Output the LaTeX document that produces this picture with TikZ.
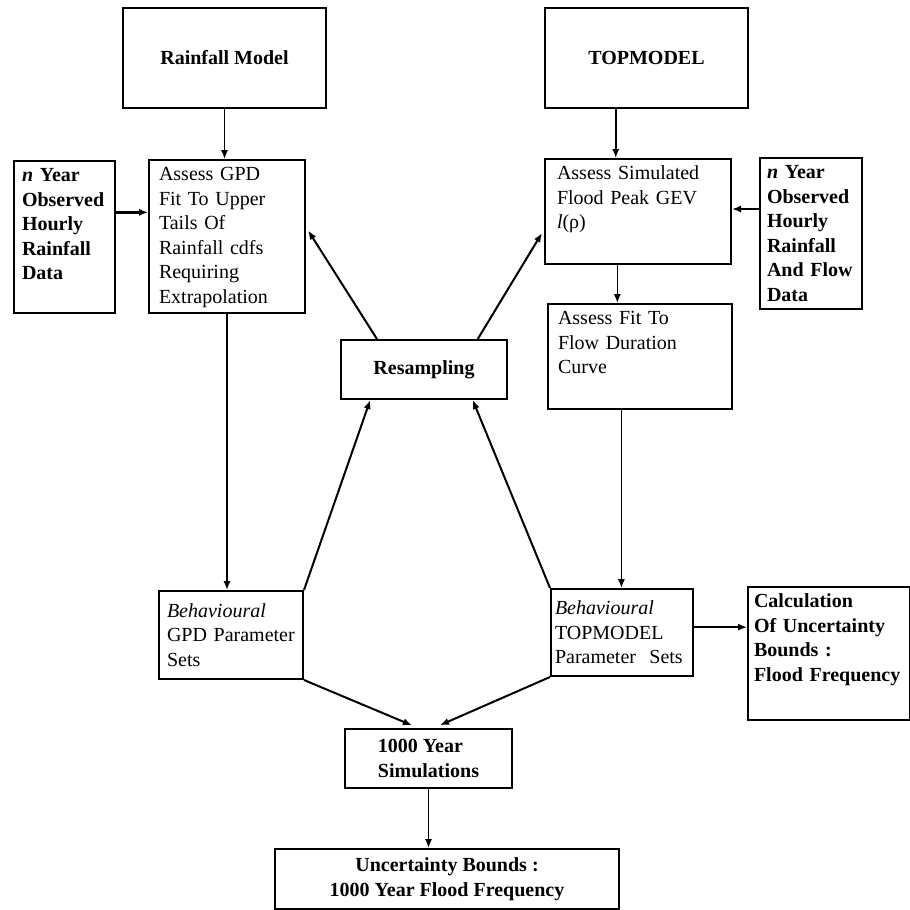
\documentclass[tikz,border=0pt]{standalone}
\usepackage{fontspec}
\setmainfont{Liberation Serif}
\usepackage{tikz}
\usetikzlibrary{calc,arrows.meta}
\tikzset{
  blk/.style={draw=black, line width=1pt, anchor=north west, inner xsep=4pt, inner ysep=2pt, font={\fontsize{10pt}{12.25pt}\selectfont}},
  bblk/.style={blk, font={\fontsize{10pt}{12.25pt}\selectfont\bfseries}},
  tall/.style={align=left, text height=8.25pt},
  arr/.style={draw=black, line width=0.8pt, -{Latex[length=4.5pt,width=3.6pt]}},
  darr/.style={arr, line width=1pt},
  harr/.style={arr, line width=1.3pt},
}
\begin{document}
\begin{tikzpicture}[x=0.5pt, y=-0.5pt]
  \useasboundingbox (0,0) rectangle (910,910);

  \node[bblk, minimum width=101.5pt, minimum height=50pt] (rain) at (122,7) {Rainfall Model};
  \node[bblk, minimum width=101.5pt, minimum height=50pt] (topm) at (544,7) {TOPMODEL};

  \node[bblk, tall, text width=42.5pt, text depth=63.75pt] (obsL) at (13,160)
    {\textit{n} Year\\Observed\\Hourly\\Rainfall\\Data};
  \node[blk, tall, inner xsep=5pt, text width=68pt, text depth=64.25pt] (gpd) at (148,159)
    {Assess GPD\\Fit To Upper\\Tails Of\\Rainfall cdfs\\Requiring\\Extrapolation};
  \node[blk, tall, inner xsep=6pt, text width=81pt, text depth=40.25pt] (sim) at (544,158)
    {Assess Simulated\\Flood Peak GEV\\\textit{l}(ρ)};
  \node[bblk, tall, inner xsep=3.5pt, text width=44pt, text depth=63.25pt] (obsR) at (759,157)
    {\textit{n} Year\\Observed\\Hourly\\Rainfall\\And Flow\\Data};
  \node[blk, tall, inner xsep=5pt, text width=82pt, text depth=40.25pt] (fit) at (547,303)
    {Assess Fit To\\Flow Duration\\Curve};

  \node[bblk, minimum width=83pt, minimum height=29.5pt] (resamp) at (340,339) {Resampling};

  \node[blk, align=left, inner xsep=4pt, text width=64pt, minimum height=44pt] (behG) at (158,590)
    {\textit{Behavioural}\\\mbox{GPD Parameter}\\Sets};
  \node[blk, align=left, inner xsep=2pt, text width=67pt, minimum height=43.5pt] (behT) at (550,588)
    {\textit{Behavioural}\\TOPMODEL\\Parameter~~Sets};
  \node[bblk, tall, inner xsep=3pt, text width=75pt, text depth=54.25pt] (ffbounds) at (747,586)
    {Calculation\\Of Uncertainty\\Bounds :\\Flood Frequency};

  \node[bblk, align=left, minimum width=83.5pt, minimum height=29.5pt] (sim1000) at (344,728)
    {1000 Year\\Simulations};
  \node[bblk, align=center, minimum width=172pt, minimum height=30pt] (unc) at (274,848)
    {Uncertainty Bounds :\\1000 Year Flood Frequency};

  \coordinate (t1) at ($(topm.south west)!0.35!(topm.south east)$);
  \coordinate (t2) at ($(sim.south west)!0.39!(sim.south east)$);
  \coordinate (t3) at ($(fit.south west)!0.40!(fit.south east)$);
  \coordinate (t4) at ($(obsL.north east)!0.34!(obsL.south east)$);
  \coordinate (t5) at ($(obsR.north west)!0.34!(obsR.south west)$);
  \coordinate (t6) at ($(behT.north east)!0.44!(behT.south east)$);

  \draw[arr] (rain.south) -- (rain.south |- gpd.north);
  \draw[arr] (t1) -- (t1 |- sim.north);
  \draw[arr] (t2) -- (t2 |- fit.north);
  \draw[arr] (t3) -- (t3 |- behT.north);
  \draw[arr] (gpd.south) -- (gpd.south |- behG.north);
  \draw[harr] (t4) -- (t4 -| gpd.west);
  \draw[harr] (t5) -- (t5 -| sim.east);
  \draw[harr] (t6) -- (t6 -| ffbounds.west);

  \draw[darr, shorten >=2pt] ($(resamp.north west)!0.22!(resamp.north east)$) -- ($(gpd.north east)!0.44!(gpd.south east)$);
  \draw[darr, shorten >=2pt] ($(resamp.north west)!0.82!(resamp.north east)$) -- ($(sim.north west)!0.67!(sim.south west)$);
  \draw[darr] (behG.north east) -- ($(resamp.south west)!0.18!(resamp.south east)$);
  \draw[darr] (behT.north west) -- ($(resamp.south west)!0.79!(resamp.south east)$);
  \draw[darr, shorten >=3.5pt] (behG.south east) -- ($(sim1000.north west)!0.44!(sim1000.north east)$);
  \draw[darr, shorten >=3.5pt] (behT.south west) -- ($(sim1000.north west)!0.53!(sim1000.north east)$);
  \draw[arr] (sim1000.south) -- (sim1000.south |- unc.north);
\end{tikzpicture}
\end{document}
